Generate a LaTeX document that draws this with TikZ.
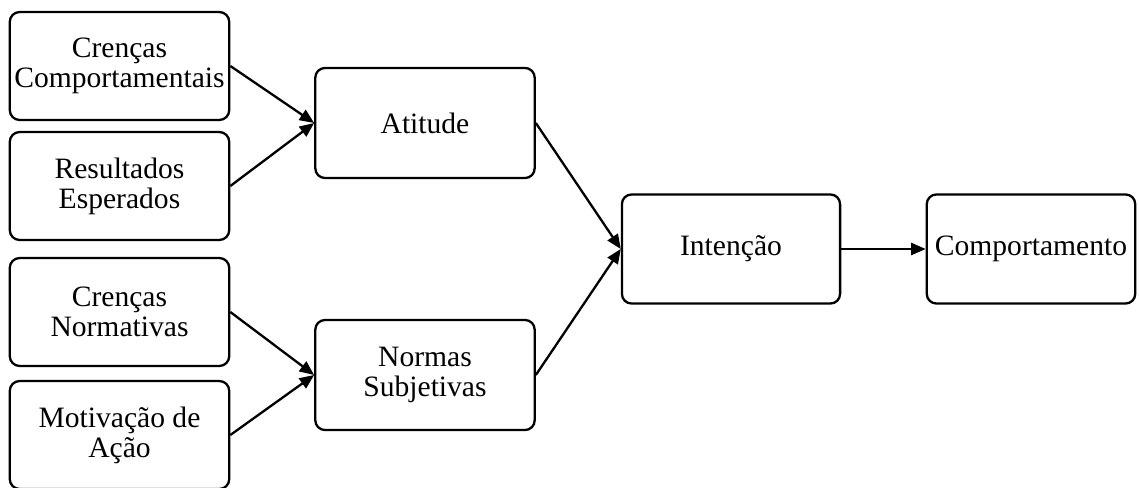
\documentclass[tikz,border=0pt]{standalone}
\usepackage{fontspec}
\setmainfont{Liberation Serif}
\usetikzlibrary{arrows.meta, positioning}

\begin{document}
\begin{tikzpicture}[
                x = 0.4125pt, y = -0.4125pt,
                box/.style = {draw, rounded corners=4pt, line width=0.95pt,
                              minimum width=90.5pt, minimum height=44.5pt,
                              inner sep=0pt, align=center,
                              font=\fontsize{12.2}{12.4}\selectfont},
                seta/.style = {-{Triangle[length=6pt, width=5pt]}, line width=0.95pt}
                    ]
                \useasboundingbox (0,0) rectangle (1139,488);
                % coluna da esquerda
                \node[box] (crcomp) at (119.5,66) {Crenças\\Comportamentais};
                \node[box] (result) at (119.5,186) {Resultados\\Esperados};
                \node[box] (crnorm) at (119.5,312) {Crenças\\Normativas};
                \node[box] (motiv) at (119.5,435) {Motivação de\\Ação};
                % coluna do meio
                \node[box, minimum height=45.4pt] (atitude) at (425,123) {Atitude};
                \node[box, minimum height=45.4pt] (normas) at (425,375) {Normas\\Subjetivas};
                \node[box, minimum width=90pt, minimum height=45pt] (intencao) at (731,249) {Intenção};
                \node[box, minimum width=86pt, minimum height=45pt] (comport) at (1031,249) {Comportamento};
                \draw[seta] (crcomp.east) to (atitude.west);
                \draw[seta] (result.east) to (atitude.west);
                \draw[seta] (crnorm.east) to (normas.west);
                \draw[seta] (motiv.east) to (normas.west);
                \draw[seta] (atitude.east) to (intencao.west);
                \draw[seta] (normas.east) to (intencao.west);
                \draw[seta] (intencao.east) to (comport.west);
            \end{tikzpicture}
\end{document}
